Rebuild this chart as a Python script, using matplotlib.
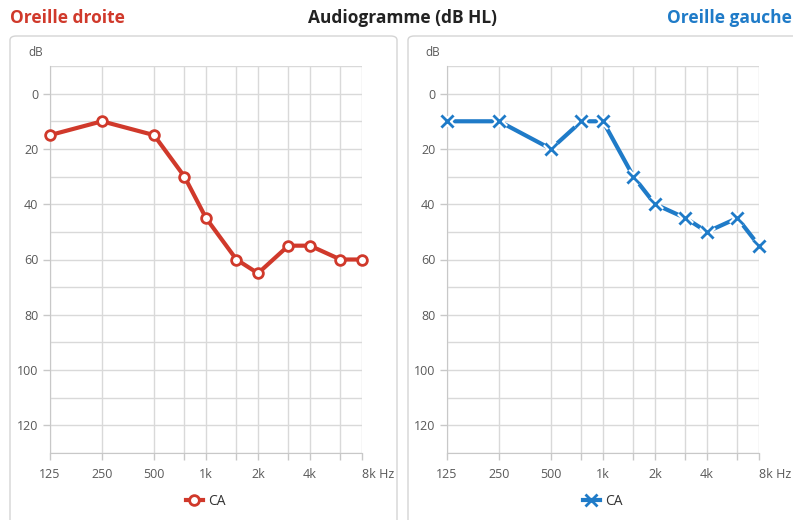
import matplotlib
matplotlib.use("Agg")
import matplotlib.pyplot as plt
from matplotlib.patches import FancyBboxPatch
from matplotlib.ticker import FixedLocator, NullFormatter

plt.rcParams['font.family'] = ['Open Sans', 'DejaVu Sans']

freqs = [125, 250, 500, 750, 1000, 1500, 2000, 3000, 4000, 6000, 8000]
right_ear = [15, 10, 15, 30, 45, 60, 65, 55, 55, 60, 60]
left_ear = [10, 10, 20, 10, 10, 30, 40, 45, 50, 45, 55]
major_freqs = [125, 250, 500, 1000, 2000, 4000, 8000]
freq_labels = ['125', '250', '500', '1k', '2k', '4k', '8k Hz']
minor_freqs = [750, 1500, 3000, 6000]
db_ticks = [0, 20, 40, 60, 80, 100, 120]

RED = '#d0392b'
BLUE = '#1f7bc8'
GRID = '#d9d9d9'
TXT = '#595959'

W, H = 793, 520
fig = plt.figure(figsize=(W / 100, H / 100), dpi=100)

def fx(px):
    return px / W

def fy(py):
    return 1 - py / H

# panel boxes
for x0, x1 in [(10, 397), (408, 805)]:
    box = FancyBboxPatch((fx(x0), fy(545)), fx(x1 - x0), fy(36) - fy(545),
                         boxstyle="round,pad=0,rounding_size=0.008",
                         transform=fig.transFigure, facecolor='none',
                         edgecolor='#d4d4d4', linewidth=1.0, zorder=-5)
    fig.patches.append(box)

fig.text(fx(10), fy(18), 'Oreille droite', color=RED, fontsize=12.5,
         fontweight='bold', ha='left', va='center')
fig.text(fx(402), fy(18), 'Audiogramme (dB HL)', color='#222222', fontsize=12.5,
         fontweight='bold', ha='center', va='center')
fig.text(fx(792), fy(18), 'Oreille gauche', color=BLUE, fontsize=12.5,
         fontweight='bold', ha='right', va='center')

def make_axes(left_px, values, color, marker):
    ax = fig.add_axes([fx(left_px), fy(453), fx(312), fy(66) - fy(453)])
    ax.set_zorder(2)
    ax.patch.set_alpha(0)
    ax.set_xscale('log')
    ax.set_xlim(125, 8000)
    ax.set_ylim(130, -10)
    ax.xaxis.set_major_locator(FixedLocator(major_freqs))
    ax.xaxis.set_minor_locator(FixedLocator(minor_freqs))
    ax.set_xticklabels(freq_labels)
    ax.xaxis.set_minor_formatter(NullFormatter())
    ax.yaxis.set_major_locator(FixedLocator(db_ticks))
    ax.yaxis.set_minor_locator(FixedLocator([-10, 10, 30, 50, 70, 90, 110, 130]))
    ax.set_yticklabels([str(v) for v in db_ticks])
    ax.grid(True, which='both', color=GRID, linewidth=1.0)
    ax.set_axisbelow(True)
    for s in ['top', 'right']:
        ax.spines[s].set_visible(False)
    for s in ['left', 'bottom']:
        ax.spines[s].set_color('#c8c8c8')
    ax.tick_params(axis='both', which='both', colors='#c8c8c8', labelcolor=TXT,
                   labelsize=9, length=5, width=1)
    ax.tick_params(axis='y', which='minor', length=0)
    ax.tick_params(axis='x', which='major', pad=6)
    lbls = ax.get_xticklabels()
    lbls[-1].set_horizontalalignment('left')
    ax.text(-14 / 312, 1.034, 'dB', transform=ax.transAxes, fontsize=8.5,
            color=TXT, ha='center', va='center')
    if marker == 'o':
        ax.plot(freqs, values, color=color, linewidth=3, marker='o',
                markersize=7, markerfacecolor='white', markeredgecolor=color,
                markeredgewidth=2, label='CA', clip_on=False, zorder=3)
    else:
        ax.plot(freqs, values, color=color, linewidth=3, label='CA',
                marker='x', markersize=8, markeredgewidth=2, clip_on=False, zorder=3)
        ax.plot(freqs, values, linestyle='none', marker='x', markersize=8,
                markeredgewidth=5, color='white', clip_on=False, zorder=4)
        ax.plot(freqs, values, linestyle='none', marker='x', markersize=8,
                markeredgewidth=2, color=color, clip_on=False, zorder=5)
    leg = ax.legend(loc='center', bbox_to_anchor=(0.5, -0.125), frameon=False,
                    fontsize=10, handlelength=1.2, handletextpad=0.4)
    for t in leg.get_texts():
        t.set_color('#333333')
    return ax

make_axes(50, right_ear, RED, 'o')
make_axes(447, left_ear, BLUE, 'x')

fig.savefig('out.png', dpi=100, facecolor='white')
